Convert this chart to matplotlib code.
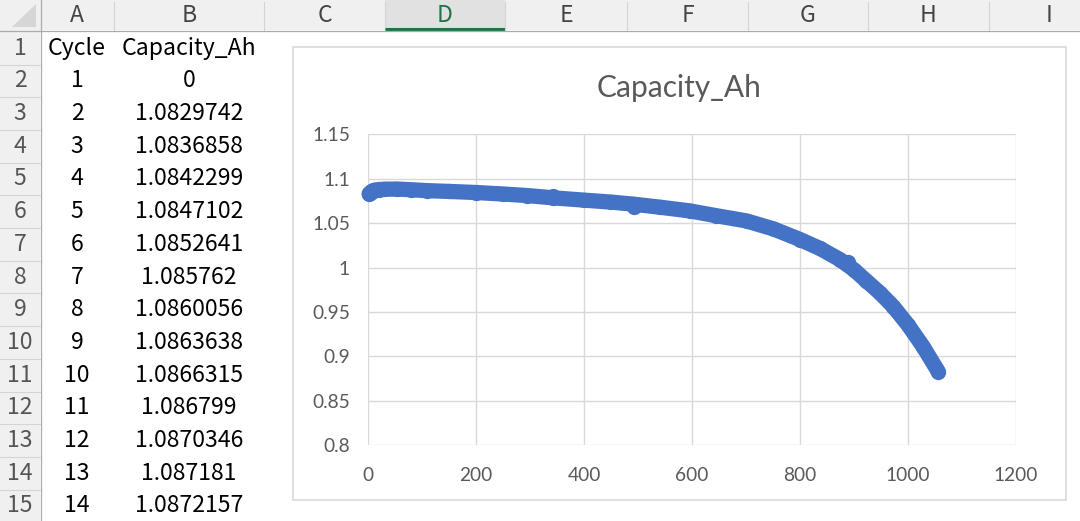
import numpy as np
import matplotlib
matplotlib.use('Agg')
import matplotlib.pyplot as plt
from matplotlib.patches import Rectangle, Polygon
from matplotlib.ticker import FuncFormatter

# visible sheet cells (A1:B15)
table_cycle = [1, 2, 3, 4, 5, 6, 7, 8, 9, 10, 11, 12, 13, 14]
table_cap = [0, 1.0829742, 1.0836858, 1.0842299, 1.0847102, 1.0852641, 1.085762,
             1.0860056, 1.0863638, 1.0866315, 1.086799, 1.0870346, 1.087181, 1.0872157]
table_cap_text = ['0', '1.0829742', '1.0836858', '1.0842299', '1.0847102', '1.0852641', '1.085762',
                  '1.0860056', '1.0863638', '1.0866315', '1.086799', '1.0870346', '1.087181', '1.0872157']

# rest of the series
curve_cycle = [20, 30, 53, 80, 109, 150, 200, 250, 294, 343, 400, 450, 491, 540, 596,
               644, 701, 751, 800, 837, 874, 900, 923, 948, 973, 1000, 1028, 1056]
curve_cap = [1.0878, 1.0882, 1.0884, 1.0876, 1.0866, 1.0857, 1.0845, 1.0828, 1.0811, 1.0785,
             1.0759, 1.0737, 1.0714, 1.0680, 1.0638, 1.0585, 1.0525, 1.0435, 1.0316, 1.0215,
             1.0090, 0.9975, 0.9850, 0.9715, 0.9560, 0.9355, 0.9110, 0.8830]
spike_cycle = [343, 492, 889]
spike_cap = [1.0800, 1.0680, 1.0062]

col_letters = ['A', 'B', 'C', 'D', 'E', 'F', 'G', 'H', 'I']
col_edges = [40, 114, 264, 385, 505, 627, 748, 868, 989, 1110]

x_ticks = [0, 200, 400, 600, 800, 1000, 1200]
y_ticks = [0.8, 0.85, 0.9, 0.95, 1.0, 1.05, 1.1, 1.15]

W, H = 1080, 521
fig = plt.figure(figsize=(W / 100, H / 100), dpi=100)
cell_font = ['Noto Sans CJK SC', 'DejaVu Sans']
chart_font = ['Lato', 'DejaVu Sans']
cell_fs = 16.6

# ---- sheet background
sh = fig.add_axes([0, 0, 1, 1])
sh.set_xlim(0, W)
sh.set_ylim(H, 0)
sh.axis('off')

hdr_h = 30
row_top = 31.8
row_h = 32.7
hdr_bg = '#F0F0F0'

sh.add_patch(Rectangle((0, 0), W, hdr_h, color=hdr_bg, lw=0))
sh.add_patch(Rectangle((0, 0), 40, H, color=hdr_bg, lw=0))
sh.add_patch(Polygon([(36, 4), (36, 27), (12, 27)], closed=True, color='#D6D6D6', lw=0))

for i, let in enumerate(col_letters):
    x0, x1 = col_edges[i], col_edges[i + 1]
    color = '#444444'
    if let == 'D':
        sh.add_patch(Rectangle((x0, 0), x1 - x0, hdr_h, color='#E1E1E1', lw=0))
        sh.plot([x0, x1], [28.8, 28.8], color='#217346', lw=2.2, solid_capstyle='butt')
        color = '#217346'
    sh.plot([x1, x1], [2, hdr_h], color='#D4D4D4', lw=0.8)
    sh.text((x0 + x1) / 2, 15.5, let, ha='center', va='center', fontsize=16.5,
            color=color, family=cell_font)

sh.plot([0, W], [hdr_h + 0.5, hdr_h + 0.5], color='#ABABAB', lw=0.9)
sh.plot([40.5, 40.5], [0, H], color='#ABABAB', lw=0.9)

for r in range(15):
    y0 = row_top + r * row_h
    sh.plot([0, 40], [y0 + row_h, y0 + row_h], color='#D4D4D4', lw=0.8)
    sh.text(20, y0 + row_h / 2, str(r + 1), ha='center', va='center', fontsize=cell_fs,
            color='#555555', family=cell_font)

# cell contents
xa = (col_edges[0] + col_edges[1]) / 2
xb = (col_edges[1] + col_edges[2]) / 2
yc = row_top + row_h / 2
sh.text(xa, yc, 'Cycle', ha='center', va='center', fontsize=cell_fs, color='#000000', family=cell_font)
sh.text(xb, yc, 'Capacity_Ah', ha='center', va='center', fontsize=cell_fs, color='#000000', family=cell_font)
for i, (c, t) in enumerate(zip(table_cycle, table_cap_text)):
    y = row_top + (i + 1.5) * row_h
    sh.text(xa, y, str(c), ha='center', va='center', fontsize=cell_fs, color='#000000', family=cell_font)
    sh.text(xb, y, t, ha='center', va='center', fontsize=cell_fs, color='#000000', family=cell_font)

# chart frame
sh.add_patch(Rectangle((293, 47), 1066 - 293, 500 - 47, facecolor='white',
                       edgecolor='#D9D9D9', lw=1.2))
sh.text((293 + 1066) / 2, 88, 'Capacity_Ah', ha='center', va='center', fontsize=21.5,
        color='#595959', family=chart_font)

# ---- chart plot area
px_l, px_r, px_t, px_b = 368, 1016, 134.3, 445.3
ax = fig.add_axes([px_l / W, 1 - px_b / H, (px_r - px_l) / W, (px_b - px_t) / H])
ax.set_xlim(0, 1200)
ax.set_ylim(0.8, 1.15)
ax.set_xticks(x_ticks)
ax.set_yticks(y_ticks)
ax.yaxis.set_major_formatter(FuncFormatter(lambda v, p: '%g' % round(v, 2)))
ax.grid(True, color='#D9D9D9', lw=1.0)
ax.set_axisbelow(True)
for s in ax.spines.values():
    s.set_visible(False)
ax.tick_params(length=0, labelsize=13.8, labelcolor='#595959', pad=13)
ax.tick_params(axis='x', pad=15.5)
for lab in ax.get_xticklabels() + ax.get_yticklabels():
    lab.set_family(chart_font)
ax.patch.set_alpha(0)

cyc = np.array(table_cycle + curve_cycle, dtype=float)
cap = np.array(table_cap + curve_cap, dtype=float)
vis = cap >= 0.8
blue = '#4472C4'
ax.plot(cyc[vis], cap[vis], color=blue, lw=11, solid_capstyle='round',
        solid_joinstyle='round', clip_on=False)
ax.plot(cyc[vis], cap[vis], 'o', color=blue, ms=11, mew=0, clip_on=False)
ax.plot(spike_cycle, spike_cap, 'o', color=blue, ms=11, mew=0, clip_on=False)

fig.savefig('out.png', dpi=100)
